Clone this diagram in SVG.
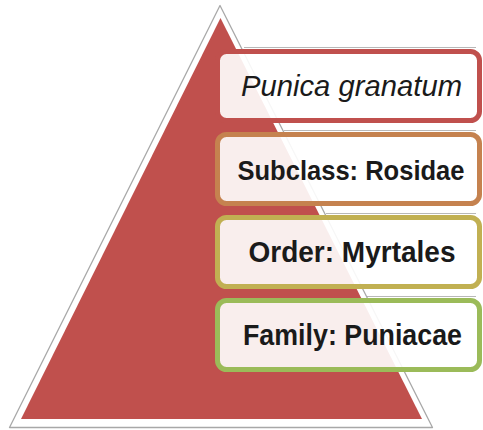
<svg xmlns="http://www.w3.org/2000/svg" width="483" height="430" viewBox="0 0 483 430">
<style>
.box{fill:#ffffff;fill-opacity:0.9;stroke-width:5}
.shadow{fill:none;stroke:#9a9a9a;stroke-opacity:0.7;stroke-width:1}
.lbl{font-family:"Liberation Sans",Arial,sans-serif;font-size:29px;font-weight:bold;fill:#1a1a1a;text-anchor:middle}
.it{font-style:italic;font-weight:normal}
</style>
<rect width="483" height="430" fill="#ffffff"/>
<g id="pyramid">
<polygon points="220,5.5 9.5,427.5 432.5,427.5" fill="#ffffff" stroke="#a8a8a8" stroke-width="1.3" stroke-linejoin="round"/>
<polygon points="220.5,18 21,419 422,419" fill="#c0504d"/>
</g>
<g id="connectors"></g>
<g id="node1">
<path class="shadow" d="M244,47.5 H476"/>
<rect class="box" x="217.5" y="51.5" width="262" height="69" rx="9" stroke="#c0504d"/>
<text class="lbl it" x="351.5" y="96" textLength="221" lengthAdjust="spacingAndGlyphs">Punica  granatum</text>
</g>
<g id="node2">
<path class="shadow" d="M284,130.5 H476"/>
<rect class="box" x="217.5" y="134.5" width="262" height="69" rx="9" stroke="#c5824f"/>
<text class="lbl" x="351" y="180" style="font-size:27.5px" textLength="227" lengthAdjust="spacingAndGlyphs">Subclass: Rosidae</text>
</g>
<g id="node3">
<path class="shadow" d="M326,213.5 H476"/>
<rect class="box" x="217.5" y="217.5" width="262" height="69" rx="9" stroke="#c1b052"/>
<text class="lbl" x="352" y="261.5" textLength="207" lengthAdjust="spacingAndGlyphs">Order: Myrtales</text>
</g>
<g id="node4">
<path class="shadow" d="M367,296.5 H476"/>
<rect class="box" x="217.5" y="300.5" width="262" height="69" rx="9" stroke="#9bbb59"/>
<text class="lbl" x="352.5" y="345" textLength="219" lengthAdjust="spacingAndGlyphs">Family: Puniacae</text>
</g>
</svg>
